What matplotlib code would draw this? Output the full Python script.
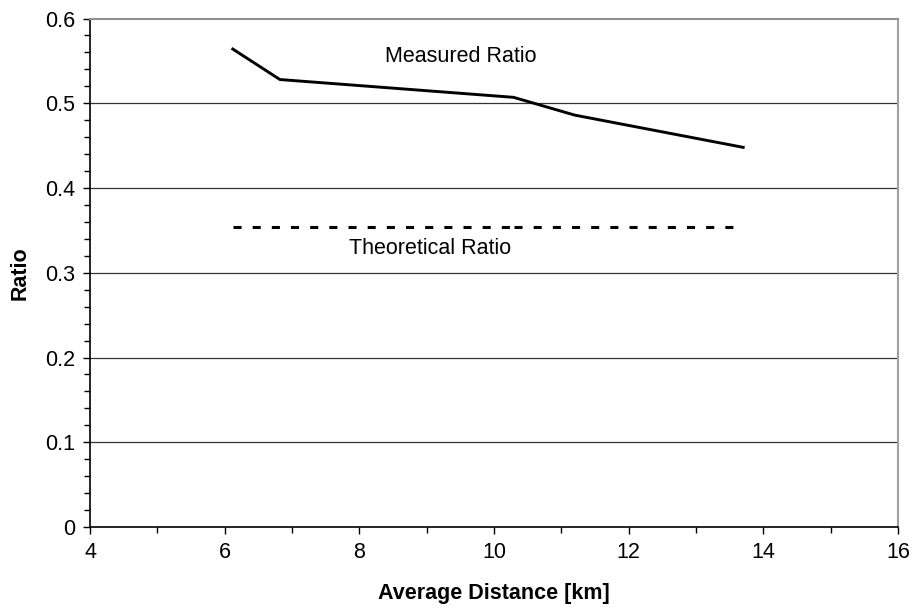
import matplotlib.pyplot as plt
from matplotlib.ticker import MultipleLocator

plt.rcParams['font.family'] = ['Liberation Sans', 'DejaVu Sans']
plt.rcParams['lines.scale_dashes'] = False

# values
distance = [6.12, 6.82, 10.29, 11.2, 13.7]
measured = [0.564, 0.528, 0.507, 0.486, 0.448]
theoretical = [0.354, 0.354, 0.354, 0.354, 0.354]

fs = 15.5

fig = plt.figure(figsize=(9.14, 6.09), dpi=100)
ax = fig.add_axes([0.0985, 0.1346, 0.8840, 0.8350])

for yv in [0.1, 0.2, 0.3, 0.4, 0.5]:
    ax.axhline(yv, color='#333333', lw=0.9, zorder=1)

ax.plot(distance, measured, color='black', lw=2.1, zorder=3)
# dash pattern starts again at the middle point, as in the reference
ax.plot(distance[:3], theoretical[:3], color='black', lw=2.2,
        linestyle=(0, (5.8, 8.0)), zorder=3)
ax.plot(distance[2:], theoretical[2:], color='black', lw=2.2,
        linestyle=(0, (5.8, 8.0)), zorder=3)

ax.text(9.5, 0.555, 'Measured Ratio', fontsize=fs, ha='center', va='center')
ax.text(9.05, 0.329, 'Theoretical Ratio', fontsize=fs, ha='center', va='center')

ax.set_xlim(4, 16)
ax.set_ylim(0, 0.6)
ax.xaxis.set_major_locator(MultipleLocator(2))
ax.xaxis.set_minor_locator(MultipleLocator(1))
ax.yaxis.set_major_locator(MultipleLocator(0.1))
ax.yaxis.set_minor_locator(MultipleLocator(0.02))
ax.yaxis.set_major_formatter(plt.FuncFormatter(lambda v, p: '0' if abs(v) < 1e-9 else f'{v:.1f}'))

ax.tick_params(which='both', direction='out', color='black', width=1.0, labelsize=fs)
ax.tick_params(which='major', length=5, pad=6)
ax.tick_params(which='minor', length=4)

ax.spines['left'].set_color('black')
ax.spines['bottom'].set_color('black')
ax.spines['left'].set_linewidth(1.2)
ax.spines['bottom'].set_linewidth(1.2)
ax.spines['right'].set_color('#a0a0a0')
ax.spines['top'].set_color('#909090')
ax.spines['right'].set_linewidth(1.5)
ax.spines['top'].set_linewidth(1.5)

ax.set_xlabel('Average Distance [km]', fontsize=fs, fontweight='bold', labelpad=14)
ax.set_ylabel('Ratio', fontsize=fs, fontweight='bold', labelpad=10)

fig.savefig('out.png', dpi=100)
